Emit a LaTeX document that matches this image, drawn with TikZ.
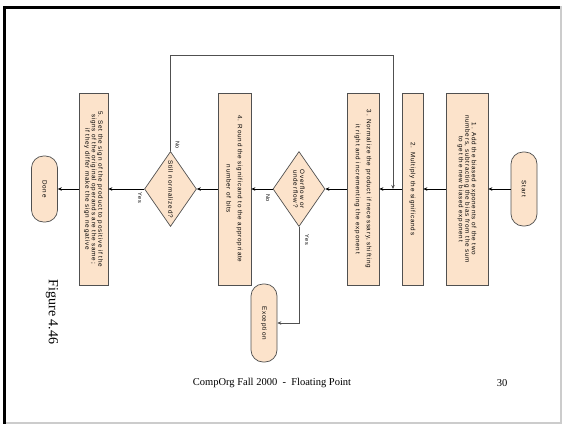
\documentclass[tikz,border=0pt]{standalone}
\usepackage{fontspec}
\setmainfont{Liberation Serif}
\newfontfamily\flowfont[LetterSpace=12]{Liberation Sans}
\usepackage{graphicx}
\usetikzlibrary{shapes.geometric,arrows.meta}

\definecolor{boxfill}{RGB}{252,227,203}
\definecolor{boxline}{RGB}{80,80,80}

\newcommand{\sidetext}[2][180pt]{\rotatebox{-90}{\parbox{#1}{\centering\flowfont\fontsize{6.3}{6.6}\selectfont #2}}}

\tikzset{
  procbox/.style={rectangle, draw=boxline, fill=boxfill, line width=0.7pt, inner sep=0pt, minimum height=192pt},
  termbox/.style={rectangle, rounded corners=12pt, draw=boxline, fill=boxfill, line width=0.7pt, inner sep=0pt, minimum width=26pt},
  decide/.style={diamond, draw=boxline, fill=boxfill, line width=0.7pt, inner sep=0pt, aspect=0.69, minimum width=52pt, minimum height=75pt},
  flow/.style={-{Stealth[length=4pt,width=3.5pt]}, line width=0.9pt},
  side/.style={-{Stealth[length=4pt,width=3.5pt]}, line width=0.6pt, draw=boxline},
  answer/.style={font=\flowfont\fontsize{5.5}{6}\selectfont, rotate=-90, inner sep=0pt}
}

\begin{document}
\begin{tikzpicture}[x=1pt, y=-1pt]
  \useasboundingbox (0,0) rectangle (563,426);
  % slide frame
  \fill[black!20] (559.5,6) rectangle (562,424);
  \fill[black!20] (3,421.5) rectangle (562,424);
  \fill[black] (3,6) rectangle (5.8,424);
  \fill[black] (3,6) rectangle (560,8.8);

  % terminals
  \node[termbox, minimum height=74pt] (start) at (524,189) {\sidetext[60pt]{Start}};
  \node[termbox, minimum height=66pt] (done) at (44.5,189) {\sidetext[60pt]{Done}};
  \node[termbox, minimum height=78pt] (exc) at (264,323) {\sidetext[60pt]{Exception}};

  % steps
  \node[procbox, minimum width=42pt] (b1) at (467,189)
    {\sidetext{1. Add the biased exponents of the two\\ numbers, subtracting the bias from the sum\\ to get the new biased exponent}};
  \node[procbox, minimum width=21pt] (b2) at (412.5,189)
    {\sidetext{2. Multiply the significands}};
  \node[procbox, minimum width=32pt] (b3) at (363,189)
    {\sidetext{3. Normalize the product if necessary, shifting\\[4.5pt] it right and incrementing the exponent}};
  \node[procbox, minimum width=33pt] (b4) at (234.5,189)
    {\sidetext{4. Round the significand to the appropriate\\[4.5pt] number of bits}};
  \node[procbox, minimum width=29pt] (b5) at (93.5,189)
    {\sidetext{5. Set the sign of the product to positive if the\\ signs of the original operands are the same;\\ if they differ make the sign negative}};

  % tests
  \node[decide] (d1) at (299,189) {\sidetext[50pt]{Overflow or\\ underflow?}};
  \node[decide] (d2) at (170.5,189) {\sidetext[60pt]{Still normalized?}};

  % main flow
  \draw[flow] (start) -- (b1);
  \draw[flow] (b1) -- (b2);
  \draw[flow] (b2) -- (b3);
  \draw[flow] (b3) -- (d1);
  \draw[flow] (d1) -- (b4);
  \draw[flow] (b4) -- (d2);
  \draw[flow] (d2) -- (b5);
  \draw[flow] (b5) -- (done);

  % exception and loop back
  \coordinate (lt) at (393,55);
  \coordinate (jn) at (393,189);
  \draw[side] (d1.south) |- (exc.east);
  \draw[side] (d2.north) |- (lt) -- (jn);

  \node[answer] (no1) at (268,198) {No};
  \node[answer] (yes1) at (307,240) {Yes};
  \node[answer] (no2) at (177.5,145) {No};
  \node[answer] (yes2) at (140,198) {Yes};

  % captions
  \node[rotate=-90, font=\fontsize{14}{16}\selectfont] (fig) at (52,312) {Figure 4.46};
  \node[font=\fontsize{10.5}{12}\selectfont] (foot) at (272,383) {CompOrg Fall 2000\ \ -\ \ Floating Point};
  \node[font=\fontsize{10.5}{12}\selectfont] (page) at (502,383) {30};
\end{tikzpicture}
\end{document}
